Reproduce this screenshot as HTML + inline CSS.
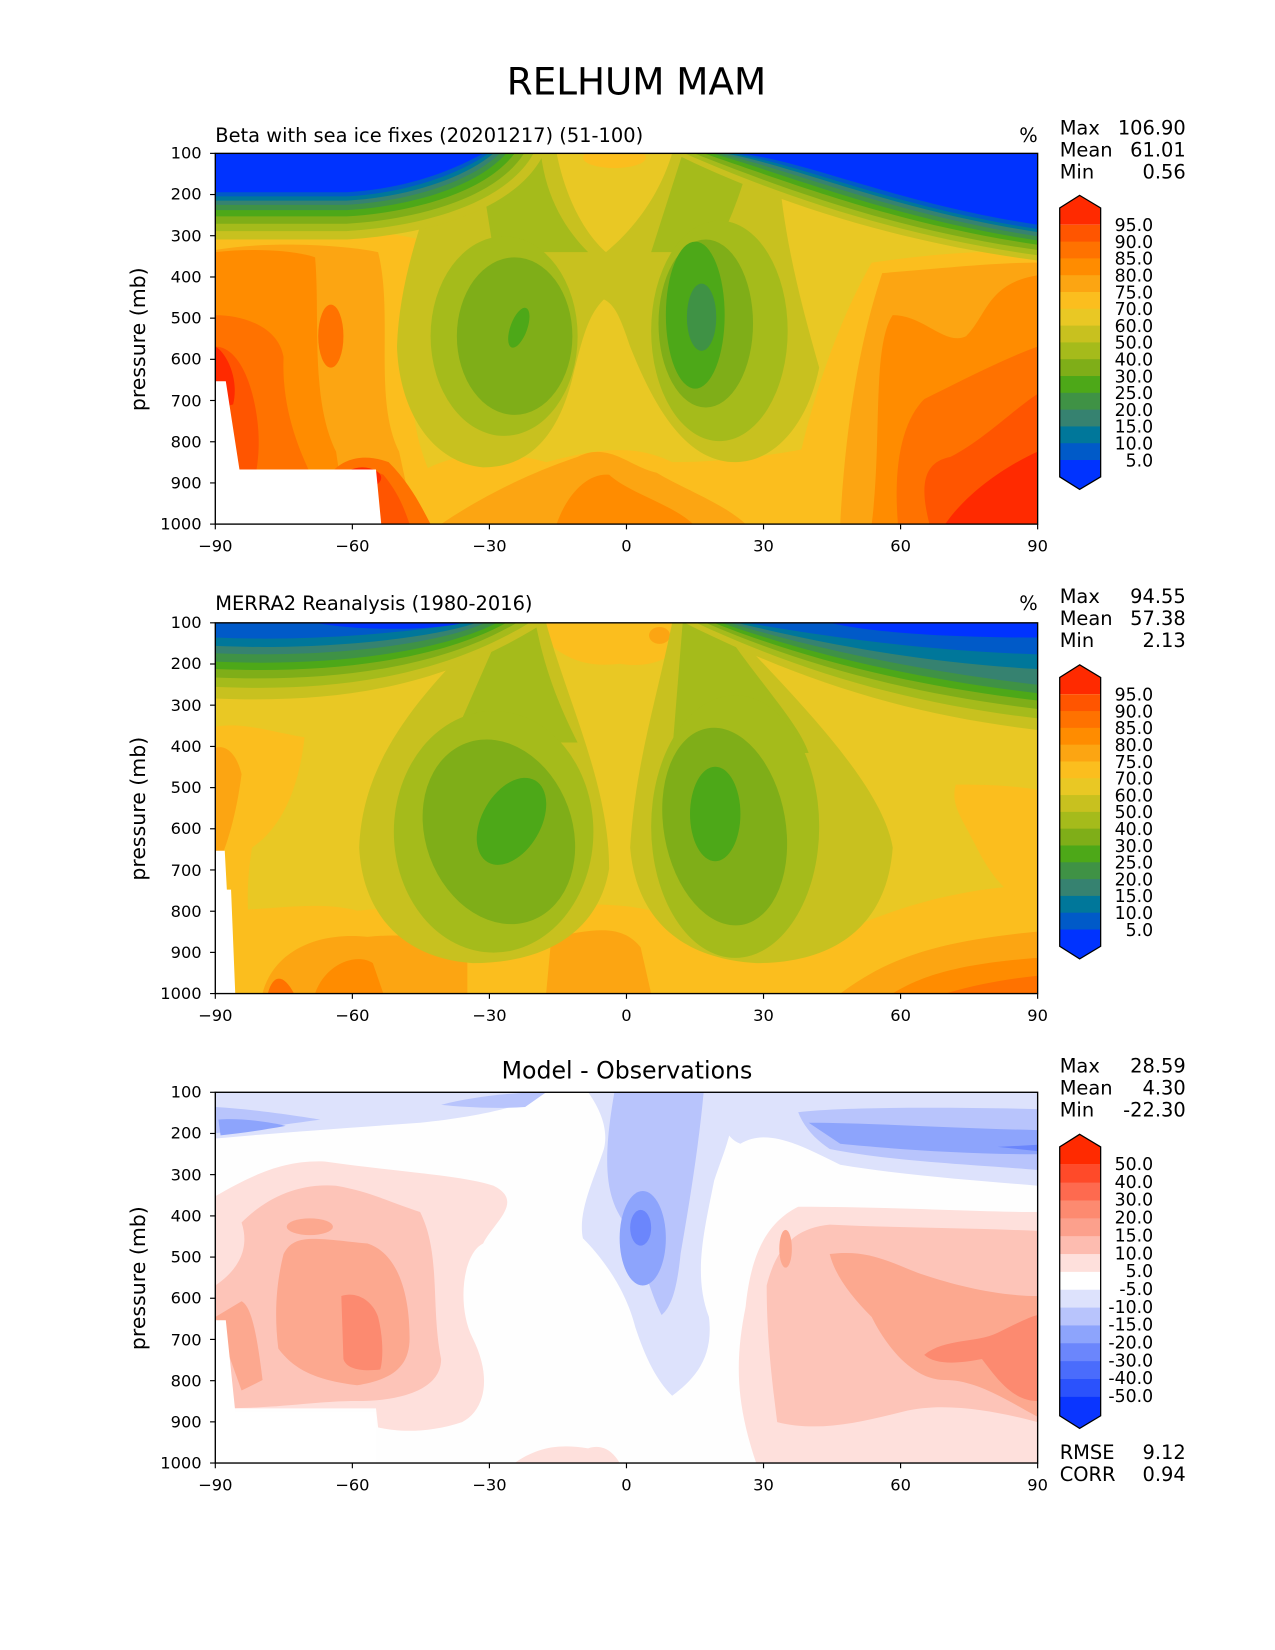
<!DOCTYPE html>
<html><head><meta charset="utf-8"><style>html,body{margin:0;padding:0;background:#fff}svg{display:block}text{font-family:"DejaVu Sans","Liberation Sans",sans-serif;fill:#000}</style></head>
<body>
<svg width="1275" height="1650" viewBox="0 0 1214 1571" xmlns="http://www.w3.org/2000/svg">
<defs>
<clipPath id="c"><rect x="205" y="146" width="783" height="353"/></clipPath>
<g id="axes">
<rect x="205" y="146" width="783" height="353" fill="none" stroke="#000" stroke-width="1.3"/>
<g stroke="#000" stroke-width="1.1">
<line x1="200" y1="146" x2="205" y2="146"/><line x1="200" y1="185.2" x2="205" y2="185.2"/><line x1="200" y1="224.4" x2="205" y2="224.4"/><line x1="200" y1="263.7" x2="205" y2="263.7"/><line x1="200" y1="302.9" x2="205" y2="302.9"/><line x1="200" y1="342.1" x2="205" y2="342.1"/><line x1="200" y1="381.3" x2="205" y2="381.3"/><line x1="200" y1="420.6" x2="205" y2="420.6"/><line x1="200" y1="459.8" x2="205" y2="459.8"/><line x1="200" y1="499" x2="205" y2="499"/>
<line x1="205" y1="499" x2="205" y2="504"/><line x1="335.5" y1="499" x2="335.5" y2="504"/><line x1="466" y1="499" x2="466" y2="504"/><line x1="596.5" y1="499" x2="596.5" y2="504"/><line x1="727" y1="499" x2="727" y2="504"/><line x1="857.5" y1="499" x2="857.5" y2="504"/><line x1="988" y1="499" x2="988" y2="504"/>
</g>
<g font-size="15.5" text-anchor="end">
<text x="192" y="151">100</text><text x="192" y="190">200</text><text x="192" y="230">300</text><text x="192" y="269">400</text><text x="192" y="308">500</text><text x="192" y="347">600</text><text x="192" y="387">700</text><text x="192" y="426">800</text><text x="192" y="465">900</text><text x="192" y="504">1000</text>
</g>
<g font-size="15.5" text-anchor="middle">
<text x="205" y="525">−90</text><text x="335.5" y="525">−60</text><text x="466" y="525">−30</text><text x="596.5" y="525">0</text><text x="727" y="525">30</text><text x="857.5" y="525">60</text><text x="988" y="525">90</text>
</g>
<text transform="translate(138,323) rotate(-90)" font-size="19.5" text-anchor="middle">pressure (mb)</text>
</g>
<g id="cb1">
<polygon points="1028,186 1048,198 1048,214 1009,214 1009,198" fill="#ff2a00"/>
<rect x="1009" y="214" width="39" height="16.5" fill="#ff5500"/>
<rect x="1009" y="230" width="39" height="16.5" fill="#ff7200"/>
<rect x="1009" y="246" width="39" height="16.5" fill="#ff8c00"/>
<rect x="1009" y="262" width="39" height="16.5" fill="#fca512"/>
<rect x="1009" y="278" width="39" height="16.5" fill="#fbbe1e"/>
<rect x="1009" y="294" width="39" height="16.5" fill="#e9c824"/>
<rect x="1009" y="310" width="39" height="16.5" fill="#c8c11f"/>
<rect x="1009" y="326" width="39" height="16.5" fill="#a5bb1b"/>
<rect x="1009" y="342" width="39" height="16.5" fill="#7fae18"/>
<rect x="1009" y="358" width="39" height="16.5" fill="#4da818"/>
<rect x="1009" y="374" width="39" height="16.5" fill="#3f9245"/>
<rect x="1009" y="390" width="39" height="16.5" fill="#368270"/>
<rect x="1009" y="406" width="39" height="16.5" fill="#00779a"/>
<rect x="1009" y="422" width="39" height="16.5" fill="#005ac8"/>
<polygon points="1009,438 1048,438 1048,454 1028,466 1009,454" fill="#0033ff"/>
<polygon points="1028,186 1048,198 1048,454 1028,466 1009,454 1009,198" fill="none" stroke="#000" stroke-width="1.2"/>
<g font-size="16.5" text-anchor="end">
<text x="1098" y="220">95.0</text><text x="1098" y="236">90.0</text><text x="1098" y="252">85.0</text><text x="1098" y="268">80.0</text><text x="1098" y="284">75.0</text><text x="1098" y="300">70.0</text><text x="1098" y="316">60.0</text><text x="1098" y="332">50.0</text><text x="1098" y="348">40.0</text><text x="1098" y="364">30.0</text><text x="1098" y="380">25.0</text><text x="1098" y="396">20.0</text><text x="1098" y="412">15.0</text><text x="1098" y="428">10.0</text><text x="1098" y="444">5.0</text>
</g>
</g>
</defs>

<text x="606" y="90" font-size="35.5" text-anchor="middle">RELHUM MAM</text>

<!-- PANEL 1 -->
<g clip-path="url(#c)">
<rect x="205" y="146" width="783" height="353" fill="#e9c824"/>
<path d="M205,225 C260,215 330,212 400,228 C420,260 390,330 395,400 C400,440 420,470 430,499 L205,499Z" fill="#fbbe1e"/>
<path d="M205,238 C250,230 320,232 360,240 C375,300 355,380 380,430 L395,499 L205,499Z" fill="#fca512"/>
<path d="M205,240 C240,236 280,238 300,245 C305,300 295,380 320,430 L330,499 L205,499Z" fill="#ff8c00"/>
<path d="M205,300 C230,300 265,310 270,340 C268,390 285,430 300,460 L305,499 L205,499Z" fill="#ff7200"/>
<ellipse cx="315" cy="320" rx="12" ry="30" fill="#ff7200"/>
<path d="M205,330 C225,330 240,360 245,400 C250,440 240,470 230,499 L205,499Z" fill="#ff5500"/>
<path d="M205,330 C215,335 228,360 222,385 L205,390Z" fill="#ff2a00"/>
<path d="M360,499 C380,440 450,420 520,440 C560,430 600,420 640,440 C700,440 760,430 800,420 C820,450 830,480 840,499Z" fill="#fbbe1e"/>
<path d="M420,499 C470,465 520,445 550,435 C580,420 600,445 625,450 C650,465 690,480 710,499Z" fill="#fca512"/>
<path d="M530,499 C540,470 560,450 580,452 C600,470 640,480 660,499Z" fill="#ff8c00"/>
<path d="M300,499 C300,450 330,425 370,440 C390,460 400,480 410,499Z" fill="#ff7200"/>
<path d="M310,499 C315,460 340,440 365,452 C380,470 385,485 390,499Z" fill="#ff5500"/>
<ellipse cx="345" cy="455" rx="18" ry="10" fill="#ff2a00"/>
<path d="M750,499 C760,420 790,320 830,250 C900,240 950,238 988,240 L988,499Z" fill="#fbbe1e"/>
<path d="M800,499 C805,400 820,320 840,260 C900,255 950,250 988,250 L988,499Z" fill="#fca512"/>
<path d="M830,499 C840,420 830,330 850,300 C880,300 900,330 920,320 C940,300 940,270 988,262 L988,499Z" fill="#ff8c00"/>
<path d="M855,499 C850,440 860,400 880,380 C920,360 960,340 988,330 L988,499Z" fill="#ff7200"/>
<path d="M885,499 C875,460 880,440 905,435 C935,420 965,390 988,375 L988,499Z" fill="#ff5500"/>
<path d="M900,499 C920,470 955,445 988,430 L988,499Z" fill="#ff2a00"/>
<path d="M425,146 L530,146 C540,195 560,225 577,240 C595,225 625,195 640,146 L740,146 C745,220 760,280 780,350 C770,400 740,440 700,440 C650,440 620,380 600,330 C590,300 585,290 575,285 C560,300 555,320 545,360 C530,420 500,445 460,445 C410,440 380,390 378,330 C380,270 400,210 425,146Z" fill="#c8c11f"/>
<path d="M455,146 L515,146 C520,190 540,220 560,240 L470,240Z M650,146 L715,146 C705,190 690,220 680,240 L620,240Z" fill="#a5bb1b"/>
<ellipse cx="480" cy="320" rx="70" ry="95" fill="#a5bb1b"/>
<ellipse cx="685" cy="315" rx="65" ry="105" fill="#a5bb1b"/>
<ellipse cx="490" cy="320" rx="55" ry="75" fill="#7fae18"/>
<ellipse cx="672" cy="308" rx="45" ry="80" fill="#7fae18"/>
<ellipse cx="494" cy="312" rx="8" ry="20" transform="rotate(20 494 312)" fill="#4da818"/>
<ellipse cx="662" cy="300" rx="28" ry="70" fill="#4da818"/>
<ellipse cx="668" cy="302" rx="14" ry="32" fill="#3f9245"/>
<ellipse cx="585" cy="150" rx="30" ry="10" fill="#fbbe1e"/>
<path d="M205,146 L205,228 L330,228 C385,225 488,208 518,146Z M642,146 C731,190 850,230 988,248 L988,146Z" fill="#c8c11f"/>
<path d="M205,146 L205,220 L330,220 C385,217 478,200 508,146Z M652,146 C736,183 850,224 988,243 L988,146Z" fill="#a5bb1b"/>
<path d="M205,146 L205,213 L330,213 C385,210 469,193 499,146Z M661,146 C740,177 850,219 988,238 L988,146Z" fill="#7fae18"/>
<path d="M205,146 L205,206 L330,206 C385,203 460,186 490,146Z M670,146 C745,171 850,213 988,233 L988,146Z" fill="#4da818"/>
<path d="M205,146 L205,200 L330,200 C385,197 452,180 482,146Z M678,146 C749,166 850,208 988,229 L988,146Z" fill="#3f9245"/>
<path d="M205,146 L205,195 L330,195 C385,192 446,175 476,146Z M684,146 C752,161 850,204 988,225 L988,146Z" fill="#368270"/>
<path d="M205,146 L205,191 L330,191 C385,188 440,171 470,146Z M690,146 C755,157 850,200 988,221 L988,146Z" fill="#00779a"/>
<path d="M205,146 L205,187 L330,187 C385,184 435,167 465,146Z M695,146 C757,154 850,197 988,218 L988,146Z" fill="#005ac8"/>
<path d="M205,146 L205,183 L330,183 C385,180 430,163 460,146Z M700,146 C760,150 850,193 988,214 L988,146Z" fill="#0033ff"/>
<polygon points="205,363 215,363 228,447 358,447 363,499 205,499" fill="#fff"/>
</g>
<use href="#axes"/>
<use href="#cb1"/>
<text x="205" y="135" font-size="18.5">Beta with sea ice fixes (20201217) (51-100)</text>
<text x="988" y="135" font-size="18.5" text-anchor="end">%</text>
<g font-size="18.5"><text x="1009" y="128">Max</text><text x="1009" y="149">Mean</text><text x="1009" y="170">Min</text></g>
<g font-size="18.5" text-anchor="end"><text x="1129" y="128">106.90</text><text x="1129" y="149">61.01</text><text x="1129" y="170">0.56</text></g>

<!-- PANEL 2 -->
<g transform="translate(0,447)">
<g clip-path="url(#c)">
<rect x="205" y="146" width="783" height="353" fill="#e9c824"/>
<path d="M205,245 C230,240 260,250 290,255 C285,300 270,340 240,360 C230,420 240,460 250,499 L205,499Z" fill="#fbbe1e"/>
<path d="M205,265 C215,262 225,270 230,290 C225,330 215,360 210,370 L205,370Z" fill="#fca512"/>
<path d="M205,499 L205,420 C260,420 300,410 340,420 C400,415 450,420 480,420 C520,415 580,410 620,420 C680,425 750,430 800,440 C850,420 900,400 988,395 L988,499Z" fill="#fbbe1e"/>
<path d="M250,499 C260,460 300,440 350,445 C400,440 440,450 445,470 L445,499Z M520,499 L525,445 C560,440 590,430 610,455 L620,499Z M800,499 C840,470 880,450 988,440 L988,499Z" fill="#fca512"/>
<path d="M300,499 C310,470 340,460 355,470 L365,499Z M850,499 C880,480 920,470 988,465 L988,499Z" fill="#ff8c00"/>
<path d="M900,499 C930,490 960,485 988,482 L988,499Z M255,499 C260,480 270,480 280,499Z" fill="#ff7200"/>
<path d="M910,300 C930,300 960,300 988,305 L988,420 C970,410 950,400 930,360 C915,330 905,320 910,300Z" fill="#fbbe1e"/>
<path d="M500,146 L660,146 C650,180 620,190 590,185 C550,190 530,175 500,146Z" fill="#fbbe1e"/>
<ellipse cx="628" cy="158" rx="10" ry="8" fill="#fca512"/>
<path d="M470,146 L520,146 C540,220 580,300 580,380 C570,440 520,470 450,470 C380,465 345,420 342,360 C345,290 380,230 470,146Z M640,146 L690,146 C760,220 840,300 850,360 C845,430 800,470 720,470 C640,465 605,420 600,360 C605,280 625,220 640,146Z" fill="#c8c11f"/>
<path d="M480,146 L510,146 C520,200 540,240 550,260 L430,260Z M650,146 L685,146 C720,200 760,240 770,270 L640,270Z" fill="#a5bb1b"/>
<ellipse cx="470" cy="345" rx="95" ry="115" fill="#a5bb1b"/>
<ellipse cx="700" cy="340" rx="80" ry="125" fill="#a5bb1b"/>
<ellipse cx="475" cy="345" rx="70" ry="90" transform="rotate(-20 475 345)" fill="#7fae18"/>
<ellipse cx="690" cy="340" rx="58" ry="95" transform="rotate(-10 690 340)" fill="#7fae18"/>
<ellipse cx="487" cy="335" rx="28" ry="45" transform="rotate(30 487 335)" fill="#4da818"/>
<ellipse cx="681" cy="328" rx="24" ry="45" fill="#4da818"/>
<path d="M205,146 L205,218 C320,223 420,208 518,146Z M652,146 C760,200 860,233 988,248 L988,146Z" fill="#c8c11f"/>
<path d="M205,146 L205,207 C320,212 420,197 504,146Z M663,146 C760,191 860,222 988,237 L988,146Z" fill="#a5bb1b"/>
<path d="M205,146 L205,198 C320,203 420,188 492,146Z M672,146 C760,184 860,213 988,228 L988,146Z" fill="#7fae18"/>
<path d="M205,146 L205,190 C320,195 420,180 482,146Z M680,146 C760,178 860,205 988,220 L988,146Z" fill="#4da818"/>
<path d="M205,146 L205,183 C320,188 420,173 473,146Z M687,146 C760,172 860,198 988,213 L988,146Z" fill="#3f9245"/>
<path d="M205,146 L205,175 C320,180 420,165 462,146Z M695,146 C760,166 860,190 988,205 L988,146Z" fill="#368270"/>
<path d="M205,146 L205,168 C320,173 420,158 453,146Z M702,146 C760,160 860,183 988,190 L988,146Z" fill="#00779a"/>
<path d="M205,146 L205,160 C320,165 420,150 443,146Z M710,146 C760,154 860,172 988,176 L988,146Z" fill="#005ac8"/>
<path d="M300,146 L440,146 C420,152 350,155 300,146Z M790,146 L988,146 L988,160 C900,160 830,155 790,146Z" fill="#0033ff"/>
<polygon points="205,363 214,363 216,400 220,400 224,499 205,499" fill="#fff"/>
</g>
<use href="#axes"/>
<use href="#cb1"/>
<text x="205" y="134" font-size="18.5">MERRA2 Reanalysis (1980-2016)</text>
<text x="988" y="134" font-size="18.5" text-anchor="end">%</text>
<g font-size="18.5"><text x="1009" y="127">Max</text><text x="1009" y="148">Mean</text><text x="1009" y="169">Min</text></g>
<g font-size="18.5" text-anchor="end"><text x="1129" y="127">94.55</text><text x="1129" y="148">57.38</text><text x="1129" y="169">2.13</text></g>
</g>

<!-- PANEL 3 -->
<g transform="translate(0,894)">
<g clip-path="url(#c)">
<rect x="205" y="146" width="783" height="353" fill="#fefefe"/>
<path d="M205,146 L520,146 C500,160 450,170 400,175 C330,180 260,185 205,190Z" fill="#dde2fc"/>
<path d="M560,146 L700,146 C700,180 690,200 680,230 C670,280 660,320 675,360 C680,400 660,420 640,435 C625,420 615,400 605,370 C595,330 570,300 555,285 C550,260 565,230 575,200 C580,180 570,160 560,146Z" fill="#dde2fc"/>
<path d="M680,146 L988,146 L988,235 C930,230 860,225 800,215 C760,195 730,180 705,195 C690,190 685,170 680,146Z" fill="#dde2fc"/>
<path d="M205,160 C240,162 280,168 305,172 C260,178 230,183 205,185Z" fill="#b8c4fc"/>
<path d="M420,158 C450,150 490,146 520,146 L500,160 C470,162 440,160 420,158Z" fill="#b8c4fc"/>
<path d="M585,146 L670,146 C665,200 655,260 648,300 C645,330 640,350 630,358 C620,340 610,300 598,275 C578,250 572,220 585,146Z" fill="#b8c4fc"/>
<path d="M760,165 C800,160 900,160 988,162 L988,220 C930,215 850,212 790,200 C775,190 765,178 760,165Z" fill="#b8c4fc"/>
<path d="M208,172 C230,170 260,175 272,178 C250,182 230,185 210,187Z" fill="#8da4fc"/>
<ellipse cx="612" cy="285" rx="22" ry="45" fill="#8da4fc"/>
<path d="M770,175 C830,175 900,180 988,182 L988,205 C920,205 850,200 800,195Z" fill="#8da4fc"/>
<ellipse cx="610" cy="275" rx="10" ry="17" fill="#6b86fc"/>
<path d="M950,198 L988,196 L988,202Z" fill="#6b86fc"/>
<path d="M205,245 C240,225 270,210 310,212 C380,222 440,225 470,235 C500,250 470,270 460,290 C440,300 435,350 450,380 C470,420 460,450 440,460 C410,470 380,470 360,465 L358,447 L205,447Z" fill="#fee0dc"/>
<path d="M230,270 C250,250 280,232 320,235 C350,240 370,250 400,260 C420,300 410,350 420,400 C420,430 380,440 340,440 C300,440 270,447 205,447 L205,330 C220,320 240,300 230,270Z" fill="#fdc4b8"/>
<path d="M270,300 C280,280 300,285 350,290 C380,300 390,340 390,380 C390,410 370,420 340,425 C300,420 280,410 265,390 C260,350 265,320 270,300Z" fill="#fca88f"/>
<ellipse cx="295" cy="274" rx="22" ry="8" fill="#fca88f"/>
<path d="M205,360 L230,345 C240,350 245,380 250,420 L230,430Z" fill="#fca88f"/>
<path d="M325,340 C340,335 355,345 360,360 C365,380 365,400 362,410 C345,412 330,410 327,400Z" fill="#fc8a70"/>
<path d="M720,499 C700,440 700,400 710,350 C715,300 730,270 760,255 C850,255 930,260 988,260 L988,499Z" fill="#fee0dc"/>
<path d="M490,499 C510,485 530,480 560,485 C575,480 585,490 590,499Z" fill="#fee0dc"/>
<path d="M740,460 C735,420 730,380 730,330 C740,290 760,275 790,272 C850,275 920,275 988,278 L988,460 C950,450 900,440 860,450 C820,460 780,470 740,460Z" fill="#fdc4b8"/>
<path d="M790,300 C830,295 850,310 880,320 C910,330 950,340 988,340 L988,455 C960,440 930,420 900,420 C870,420 845,390 830,360 C810,340 795,320 790,300Z" fill="#fca88f"/>
<ellipse cx="748" cy="295" rx="6" ry="18" fill="#fca88f"/>
<path d="M880,396 C900,380 930,385 950,375 C970,365 980,360 988,358 L988,440 C965,440 950,420 935,400 C910,405 890,405 880,396Z" fill="#fc8a70"/>
<polygon points="205,363 215,363 224,450 358,450 358,499 205,499" fill="#fff"/>
</g>
<use href="#axes"/>
<polygon points="1028,186 1048,198 1048,215 1009,215 1009,198" fill="#ff2a00"/>
<rect x="1009" y="215" width="39" height="17.5" fill="#ff4a29"/>
<rect x="1009" y="232" width="39" height="17.5" fill="#fe6a4f"/>
<rect x="1009" y="249" width="39" height="17.5" fill="#fd8a70"/>
<rect x="1009" y="266" width="39" height="17.5" fill="#fca08c"/>
<rect x="1009" y="283" width="39" height="17.5" fill="#fdbcb0"/>
<rect x="1009" y="300" width="39" height="17.5" fill="#fee0dc"/>
<rect x="1009" y="317" width="39" height="17.5" fill="#ffffff"/>
<rect x="1009" y="334" width="39" height="17.5" fill="#dde2fc"/>
<rect x="1009" y="351" width="39" height="17.5" fill="#b8c4fc"/>
<rect x="1009" y="368" width="39" height="17.5" fill="#8da4fc"/>
<rect x="1009" y="385" width="39" height="17.5" fill="#6b86fc"/>
<rect x="1009" y="402" width="39" height="17.5" fill="#4a6cfc"/>
<rect x="1009" y="419" width="39" height="17.5" fill="#2b52fc"/>
<polygon points="1009,436 1048,436 1048,454 1028,466 1009,454" fill="#0a35ff"/>
<polygon points="1028,186 1048,198 1048,454 1028,466 1009,454 1009,198" fill="none" stroke="#000" stroke-width="1.2"/>
<g font-size="16.5" text-anchor="end">
<text x="1098" y="220">50.0</text><text x="1098" y="237">40.0</text><text x="1098" y="254">30.0</text><text x="1098" y="271">20.0</text><text x="1098" y="288">15.0</text><text x="1098" y="305">10.0</text><text x="1098" y="322">5.0</text><text x="1098" y="339">-5.0</text><text x="1098" y="356">-10.0</text><text x="1098" y="373">-15.0</text><text x="1098" y="390">-20.0</text><text x="1098" y="407">-30.0</text><text x="1098" y="424">-40.0</text><text x="1098" y="441">-50.0</text>
</g>
<text x="597" y="133" font-size="22.5" text-anchor="middle">Model - Observations</text>
<g font-size="18.5"><text x="1009" y="127">Max</text><text x="1009" y="148">Mean</text><text x="1009" y="169">Min</text><text x="1009" y="495">RMSE</text><text x="1009" y="516">CORR</text></g>
<g font-size="18.5" text-anchor="end"><text x="1129" y="127">28.59</text><text x="1129" y="148">4.30</text><text x="1129" y="169">-22.30</text><text x="1129" y="495">9.12</text><text x="1129" y="516">0.94</text></g>
</g>
</svg>
</body></html>
